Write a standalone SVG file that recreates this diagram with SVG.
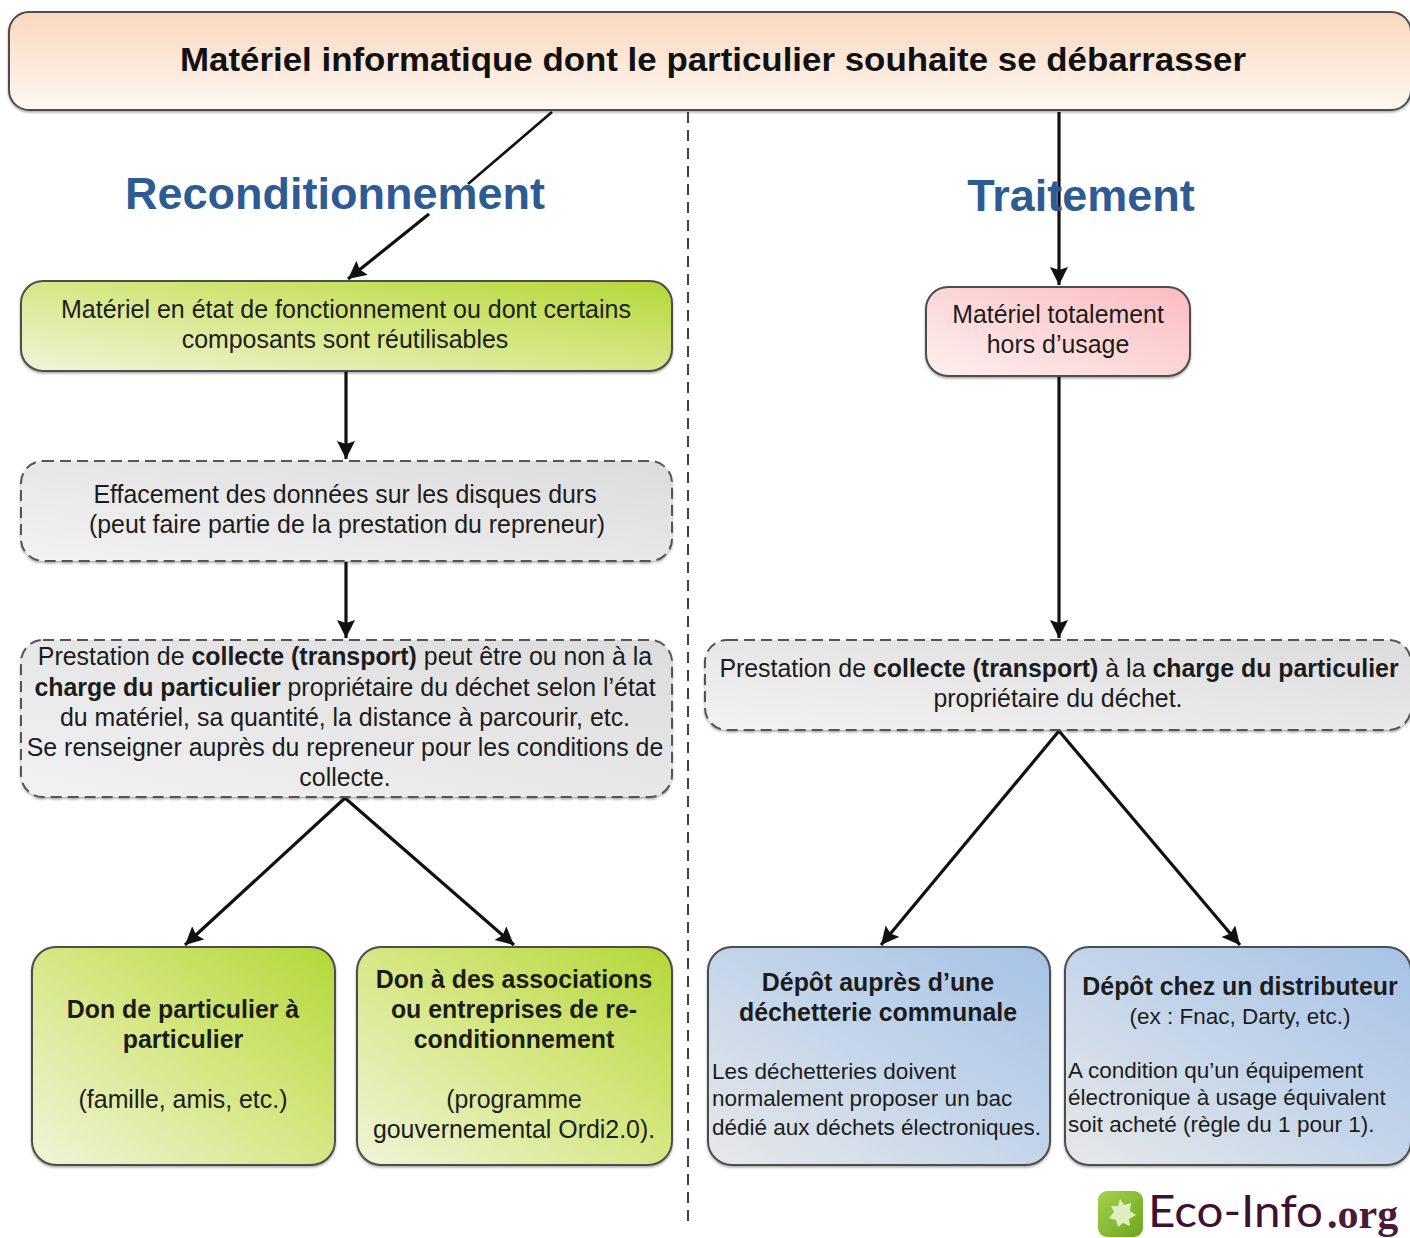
<svg xmlns="http://www.w3.org/2000/svg" width="1410" height="1238" viewBox="0 0 1410 1238">
<style>
text{font-family:"Liberation Sans",Arial,sans-serif;fill:#1c1c1c;text-anchor:middle;font-size:24.9px}
.b{font-weight:bold}
.l{text-anchor:start}
.s{font-size:22.5px}
.h{font-size:45px;font-weight:bold;fill:#2f5b94}
.t{font-size:34px;font-weight:bold;fill:#111}
.box{stroke:#4d4d4d;stroke-width:2;filter:url(#sh)}
.dash{stroke:#555;stroke-dasharray:11 6;stroke-width:2}
.c{fill:none;stroke:#111;stroke-width:3.2;marker-end:url(#ah)}
</style>
<defs>
<filter id="sh" x="-3%" y="-5%" width="106%" height="112%"><feDropShadow dx="0" dy="1.5" stdDeviation="1" flood-color="#000" flood-opacity=".35"/></filter>
<marker id="ah" markerUnits="userSpaceOnUse" markerWidth="22" markerHeight="20" refX="18" refY="9" orient="auto"><path d="M0 0L18 9L0 18L3 9Z" fill="#111"/></marker>
<linearGradient id="gPeach" x1="0" y1="0" x2="0" y2="1"><stop offset="0" stop-color="#fad7bd"/><stop offset="1" stop-color="#fef8f3"/></linearGradient>
<linearGradient id="gGreen" x1="0" y1="1" x2="1" y2="0"><stop offset="0" stop-color="#f0f4d8"/><stop offset=".55" stop-color="#d3e67e"/><stop offset="1" stop-color="#b4d738"/></linearGradient>
<linearGradient id="gGray" x1="0" y1="1" x2="1" y2="0"><stop offset="0" stop-color="#f2f2f2"/><stop offset="1" stop-color="#dcdcdc"/></linearGradient>
<linearGradient id="gPink" x1="0" y1="1" x2="1" y2="0"><stop offset="0" stop-color="#fdf0ef"/><stop offset="1" stop-color="#fbbcc0"/></linearGradient>
<linearGradient id="gBlue" x1="0" y1="1" x2="1" y2="0"><stop offset="0" stop-color="#e8e8e8"/><stop offset=".5" stop-color="#c4d5ea"/><stop offset="1" stop-color="#a6c2e6"/></linearGradient>
<linearGradient id="gLogo" x1="0" y1="0" x2="1" y2="1"><stop offset="0" stop-color="#a5d24a"/><stop offset="1" stop-color="#6ea51f"/></linearGradient>
</defs>
<rect width="1410" height="1238" fill="#fff"/>
<g id="connectors">
<path d="M552 112L468 184" fill="none" stroke="#111" stroke-width="2.6"/>
<path class="c" d="M429 214L348 279"/>
<path class="c" d="M346 371V459"/>
<path class="c" d="M346 562V638"/>
<path class="c" d="M345 798L185 945"/>
<path class="c" d="M345 798L514 945"/>
<path class="c" d="M1059 112V285"/>
<path class="c" d="M1059 377V638"/>
<path class="c" d="M1059 731L881 945"/>
<path class="c" d="M1059 731L1240 945"/>
<path d="M688 112V1226" fill="none" stroke="#444" stroke-width="2" stroke-dasharray="11 7"/>
</g>
<g id="n-top"><rect class="box" x="9" y="12" width="1402" height="98" rx="20" fill="url(#gPeach)"/>
<text class="t" x="713" y="71" textLength="1066" lengthAdjust="spacingAndGlyphs">Matériel informatique dont le particulier souhaite se débarrasser</text></g>
<g id="h-recond"><text class="h" x="335" y="209">Reconditionnement</text></g>
<g id="h-trait"><text class="h" x="1081" y="211">Traitement</text></g>
<g id="n-etat"><rect class="box" x="21" y="281" width="651" height="90" rx="22" fill="url(#gGreen)"/>
<text x="346" y="318" textLength="570" lengthAdjust="spacingAndGlyphs">Matériel en état de fonctionnement ou dont certains</text>
<text x="345" y="348">composants sont réutilisables</text></g>
<g id="n-hors"><rect class="box" x="926" y="287" width="264" height="89" rx="22" fill="url(#gPink)"/>
<text x="1058" y="323">Matériel totalement</text>
<text x="1058" y="353">hors d’usage</text></g>
<g id="n-eff"><rect class="box dash" x="21" y="461" width="651" height="100" rx="22" fill="url(#gGray)"/>
<text x="345" y="503">Effacement des données sur les disques durs</text>
<text x="347" y="533">(peut faire partie de la prestation du repreneur)</text></g>
<g id="n-coll1"><rect class="box dash" x="21" y="640" width="651" height="157" rx="22" fill="url(#gGray)"/>
<text x="345" y="665">Prestation de <tspan class="b">collecte (transport)</tspan> peut être ou non à la</text>
<text x="345" y="696"><tspan class="b">charge du particulier</tspan> propriétaire du déchet selon l’état</text>
<text x="345" y="726">du matériel, sa quantité, la distance à parcourir, etc.</text>
<text x="345" y="756">Se renseigner auprès du repreneur pour les conditions de</text>
<text x="345" y="786">collecte.</text></g>
<g id="n-coll2"><rect class="box dash" x="705" y="640" width="706" height="90" rx="22" fill="url(#gGray)"/>
<text x="1059" y="677">Prestation de <tspan class="b">collecte (transport)</tspan> à la <tspan class="b">charge du particulier</tspan></text>
<text x="1058" y="707">propriétaire du déchet.</text></g>
<g id="n-don1"><rect class="box" x="32" y="947" width="303" height="218" rx="24" fill="url(#gGreen)"/>
<text class="b" x="183" y="1018">Don de particulier à</text>
<text class="b" x="183" y="1048">particulier</text>
<text x="183" y="1108">(famille, amis, etc.)</text></g>
<g id="n-don2"><rect class="box" x="357" y="947" width="315" height="218" rx="24" fill="url(#gGreen)"/>
<text class="b" x="514" y="988">Don à des associations</text>
<text class="b" x="514" y="1018">ou entreprises de re-</text>
<text class="b" x="514" y="1048">conditionnement</text>
<text x="514" y="1108">(programme</text>
<text x="514" y="1138">gouvernemental Ordi2.0).</text></g>
<g id="n-dep1"><rect class="box" x="708" y="947" width="342" height="218" rx="24" fill="url(#gBlue)"/>
<text class="b" x="878" y="991">Dépôt auprès d’une</text>
<text class="b" x="878" y="1021">déchetterie communale</text>
<text class="l s" x="712" y="1079">Les déchetteries doivent</text>
<text class="l s" x="712" y="1106">normalement proposer un bac</text>
<text class="l s" x="712" y="1135">dédié aux déchets électroniques.</text></g>
<g id="n-dep2"><rect class="box" x="1065" y="947" width="346" height="218" rx="24" fill="url(#gBlue)"/>
<text class="b" x="1240" y="995">Dépôt chez un distributeur</text>
<text class="s" x="1240" y="1024">(ex : Fnac, Darty, etc.)</text>
<text class="l s" x="1068" y="1078">A condition qu’un équipement</text>
<text class="l s" x="1068" y="1105">électronique à usage équivalent</text>
<text class="l s" x="1068" y="1132">soit acheté (règle du 1 pour 1).</text></g>
<g id="logo"><rect x="1098" y="1191" width="45" height="46" rx="9" fill="url(#gLogo)"/>
<path d="M1120 1199l4 6 7-2-1 8 6 4-7 4 1 7-7-3-5 4-2-7-7-2 5-6-3-6 7 0z" fill="#dfeec0"/>
<text class="l" x="1148" y="1227" textLength="175" lengthAdjust="spacingAndGlyphs" style="font-size:44px;fill:#3d1230;font-family:'Lato','Liberation Sans',sans-serif">Eco-Info</text>
<text class="l" x="1327" y="1228" style="font-size:42px;font-weight:bold;fill:#4a1a38;font-family:'Liberation Serif',serif">.org</text></g>
</svg>
